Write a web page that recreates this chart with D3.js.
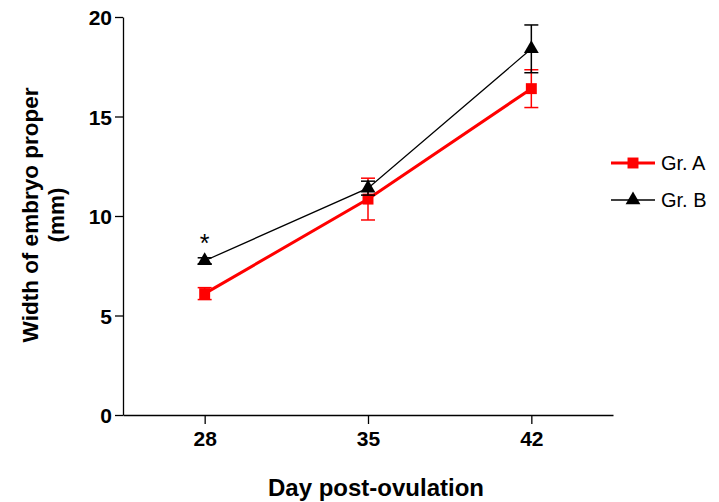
<!DOCTYPE html>
<html>
<head>
<meta charset="utf-8">
<script src="https://cdn.jsdelivr.net/npm/d3@7"></script>
<style>
  html, body { margin: 0; padding: 0; background: #fff; }
  svg { display: block; font-family: "Liberation Sans", Arial, sans-serif; }
</style>
</head>
<body>
<svg id="chart" width="719" height="502"></svg>
<script>
// Embryo width by day post-ovulation, mean ± SEM
const days = [28, 35, 42];
const groupA = [6.1, 10.85, 16.4];
const semA = [0.3, 1.05, 0.95];
const groupB = [7.75, 11.4, 18.4];
const semB = [0.15, 0.35, 1.2];
const yTicks = [0, 5, 10, 15, 20];
const seriesNames = ["Gr. A", "Gr. B"];

const svg = d3.select("#chart");
const plotLeft = 123, plotRight = 613, plotTop = 17, plotBottom = 415;

const x = d3.scaleLinear().domain([24.5, 45.5]).range([plotLeft, plotRight]);
const y = d3.scaleLinear().domain([0, 20]).range([plotBottom, plotTop]);

// Axes
const yAxis = svg.append("g")
  .attr("transform", `translate(${plotLeft},0)`)
  .call(d3.axisLeft(y).tickValues(yTicks).tickSize(8).tickPadding(3).tickSizeOuter(0));
const xAxis = svg.append("g")
  .attr("transform", `translate(0,${plotBottom})`)
  .call(d3.axisBottom(x).tickValues(days).tickSize(9).tickPadding(7).tickSizeOuter(0));

[yAxis, xAxis].forEach(g => {
  g.select(".domain").attr("stroke", "#000").attr("stroke-width", 1.3);
  g.selectAll(".tick line").attr("stroke", "#000").attr("stroke-width", 1.3);
  g.selectAll(".tick text")
    .attr("fill", "#000")
    .style("font-size", "21px")
    .style("font-weight", "bold")
    .style("font-family", "'Liberation Sans', Arial, sans-serif");
});
yAxis.selectAll(".tick text").attr("dy", "0.36em");

// Axis titles
svg.append("text")
  .attr("x", 376)
  .attr("y", 496)
  .attr("text-anchor", "middle")
  .style("font-size", "24px")
  .style("font-weight", "bold")
  .text("Day post-ovulation");

const yTitle = svg.append("text")
  .attr("transform", "translate(38,215) rotate(-90)")
  .attr("text-anchor", "middle")
  .style("font-size", "22.5px")
  .style("font-weight", "bold");
yTitle.append("tspan").attr("x", 0).attr("dy", 0).text("Width of embryo proper");
yTitle.append("tspan").attr("x", 0).attr("dy", 26).text("(mm)");

// Series
const series = [
  { name: seriesNames[0], mean: groupA, sem: semA, color: "#ff0000", width: 3, shape: d3.symbolSquare, size: 120 },
  { name: seriesNames[1], mean: groupB, sem: semB, color: "#000000", width: 1.3, shape: d3.symbolTriangle, size: 95 }
];

const line = d3.line().x(d => x(d[0])).y(d => y(d[1]));

// Draw Gr. A first so Gr. B sits on top
series.forEach(s => {
  const pts = days.map((d, i) => [d, s.mean[i], s.sem[i]]);
  const g = svg.append("g");
  // error bars
  pts.forEach(p => {
    const cx = x(p[0]);
    g.append("line").attr("x1", cx).attr("x2", cx)
      .attr("y1", y(p[1] - p[2])).attr("y2", y(p[1] + p[2]))
      .attr("stroke", s.color).attr("stroke-width", 1.5);
    [p[1] - p[2], p[1] + p[2]].forEach(v => {
      g.append("line").attr("x1", cx - 7).attr("x2", cx + 7)
        .attr("y1", y(v)).attr("y2", y(v))
        .attr("stroke", s.color).attr("stroke-width", 1.5);
    });
  });
  g.append("path").datum(pts).attr("d", line)
    .attr("fill", "none").attr("stroke", s.color).attr("stroke-width", s.width);
  g.selectAll("path.pt").data(pts).enter().append("path")
    .attr("class", "pt")
    .attr("transform", p => `translate(${x(p[0])},${y(p[1])})`)
    .attr("d", d3.symbol().type(s.shape).size(s.size))
    .attr("fill", s.color);
});

// Significance marker at day 28
svg.append("text")
  .attr("x", x(days[0]))
  .attr("y", y(groupB[0]) - 9)
  .attr("text-anchor", "middle")
  .style("font-size", "25px")
  .text("*");

// Legend
const legend = svg.append("g");
series.forEach((s, i) => {
  const ly = 163 + i * 37;
  legend.append("line").attr("x1", 611).attr("x2", 655).attr("y1", ly).attr("y2", ly)
    .attr("stroke", s.color).attr("stroke-width", s.width);
  legend.append("path").attr("transform", `translate(633,${ly})`)
    .attr("d", d3.symbol().type(s.shape).size(s.size)).attr("fill", s.color);
  legend.append("text").attr("x", 661).attr("y", ly).attr("dy", "0.36em")
    .style("font-size", "20px").text(s.name);
});
</script>
</body>
</html>
